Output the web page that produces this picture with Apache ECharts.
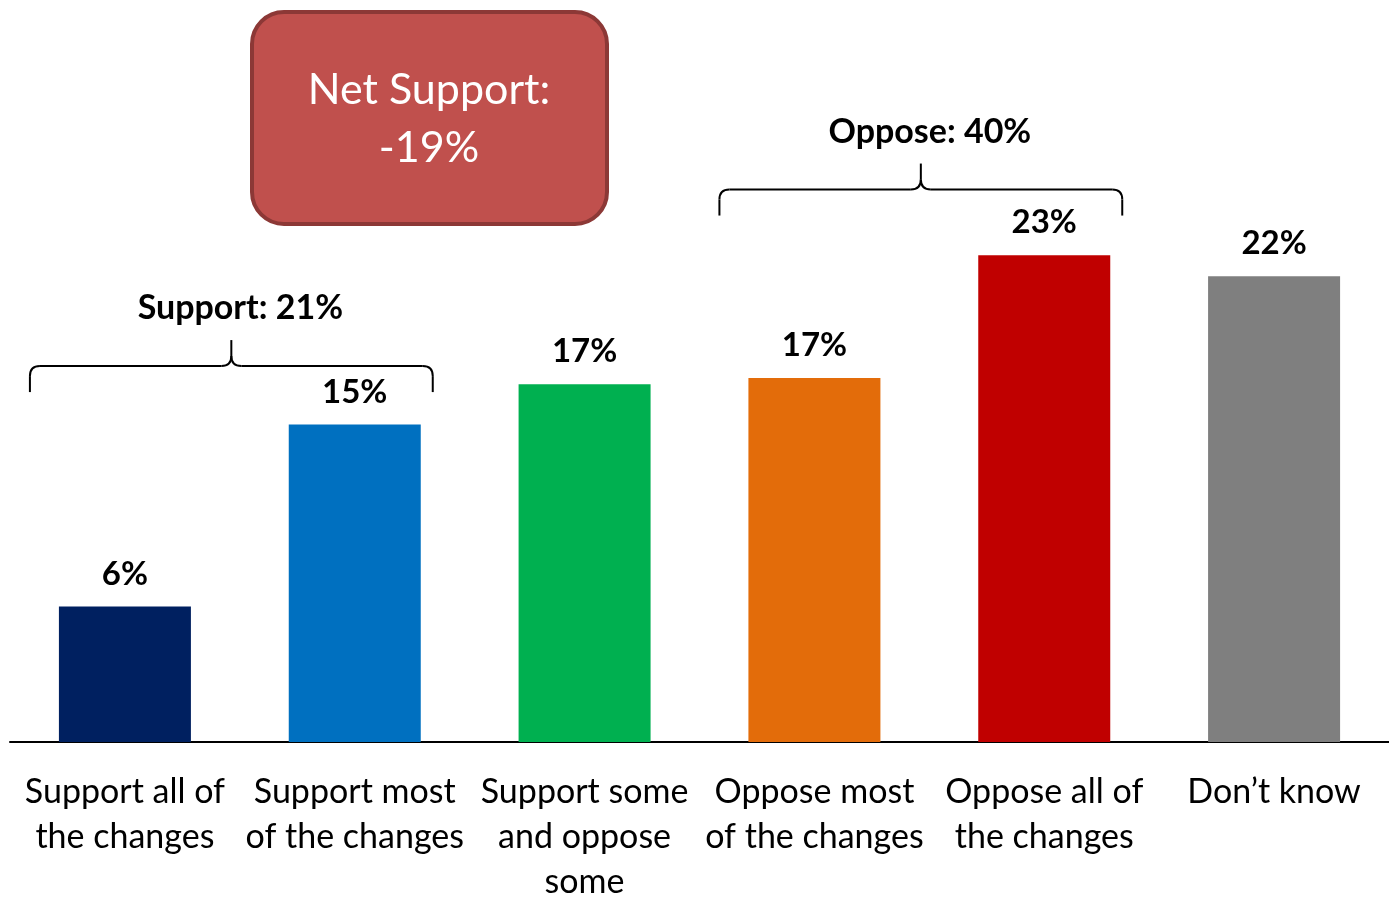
<!DOCTYPE html>
<html><head><meta charset="utf-8">
<script src="https://cdn.jsdelivr.net/npm/echarts@6/dist/echarts.min.js"></script>
<style>html,body{margin:0;padding:0;background:#fff}#c{width:1389px;height:897px}</style>
</head><body><div id="c"></div>
<script>
const categories = ["Support all of\nthe changes","Support most\nof the changes","Support some\nand oppose\nsome","Oppose most\nof the changes","Oppose all of\nthe changes","Don\u2019t know"];
const values = [6.4, 15.0, 16.9, 17.2, 23.0, 22.0];
const barColors = ["#002060","#0070C0","#00B050","#E36C0A","#C00000","#7F7F7F"];
// brace groups: [startIndex, endIndex, braceValue, label]
const braceGroups = [[0, 1, 17.76, "Support: 21%"], [3, 4, 26.1, "Oppose: 40%"]];
const netSupportText = "Net Support:\n-19%";
const FONT = "Lato";

const chart = echarts.init(document.getElementById('c'), null, {renderer:'canvas'});
chart.setOption({
  animation:false,
  grid:{left:10,right:0,top:107,height:635,containLabel:false,outerBoundsMode:'none'},
  xAxis:{type:'category',data:categories,
    axisLine:{lineStyle:{color:'#000',width:2}},axisTick:{show:false},
    axisLabel:{interval:0,fontFamily:FONT,fontSize:34,color:'#000',lineHeight:45,margin:28}},
  yAxis:{type:'value',min:0,max:30,show:false,splitLine:{show:false}},
  series:[{
    type:'bar',barWidth:132,
    data:values.map((v,i)=>({value:v,itemStyle:{color:barColors[i]}})),
    label:{show:true,position:'top',distance:16,fontFamily:FONT,fontWeight:'bold',fontSize:33,color:'#000',
      formatter:p=>Math.round(p.value)+'%'}
  },{
    type:'custom',silent:true,clip:false,z:5,
    data:braceGroups.map(g=>[g[0],g[1],g[2]]),
    encode:{x:[0,1],y:2},
    renderItem:function(params,api){
      const g = braceGroups[params.dataIndex];
      const a = api.coord([api.value(0), api.value(2)]);
      const b = api.coord([api.value(1), api.value(2)]);
      const xl = a[0]-95, xr = b[0]+78, y = a[1], xc=(xl+xr)/2, h=26, r=10;
      const st = {stroke:'#000',lineWidth:2,fill:null};
      const ch = [];
      ch.push({type:'line',shape:{x1:xl,y1:y+h,x2:xl,y2:y+r},style:st});
      ch.push({type:'bezierCurve',shape:{x1:xl,y1:y+r,cpx1:xl,cpy1:y,x2:xl+r,y2:y},style:st});
      ch.push({type:'line',shape:{x1:xl+r,y1:y,x2:xc-r,y2:y},style:st});
      ch.push({type:'bezierCurve',shape:{x1:xc-r,y1:y,cpx1:xc,cpy1:y,x2:xc,y2:y-r},style:st});
      ch.push({type:'line',shape:{x1:xc,y1:y-r,x2:xc,y2:y-h},style:st});
      ch.push({type:'bezierCurve',shape:{x1:xc,y1:y-r,cpx1:xc,cpy1:y,x2:xc+r,y2:y},style:st});
      ch.push({type:'line',shape:{x1:xc+r,y1:y,x2:xr-r,y2:y},style:st});
      ch.push({type:'bezierCurve',shape:{x1:xr-r,y1:y,cpx1:xr,cpy1:y,x2:xr,y2:y+r},style:st});
      ch.push({type:'line',shape:{x1:xr,y1:y+r,x2:xr,y2:y+h},style:st});
      ch.push({type:'text',style:{text:g[3],x:xc+9,y:y-h-32,align:'center',verticalAlign:'middle',
        font:'bold 34px '+FONT,fill:'#000'}});
      return {type:'group',children:ch};
    }
  }],
  graphic:[{type:'group',left:250,top:10,children:[
    {type:'rect',shape:{x:0,y:0,width:355,height:212,r:32},style:{fill:'#C0504D',stroke:'#8C3836',lineWidth:4}},
    {type:'text',x:177,y:107,style:{text:netSupportText,align:'center',verticalAlign:'middle',
      font:'43px '+FONT,lineHeight:58,fill:'#fff'}}
  ]}]
});
</script></body></html>
